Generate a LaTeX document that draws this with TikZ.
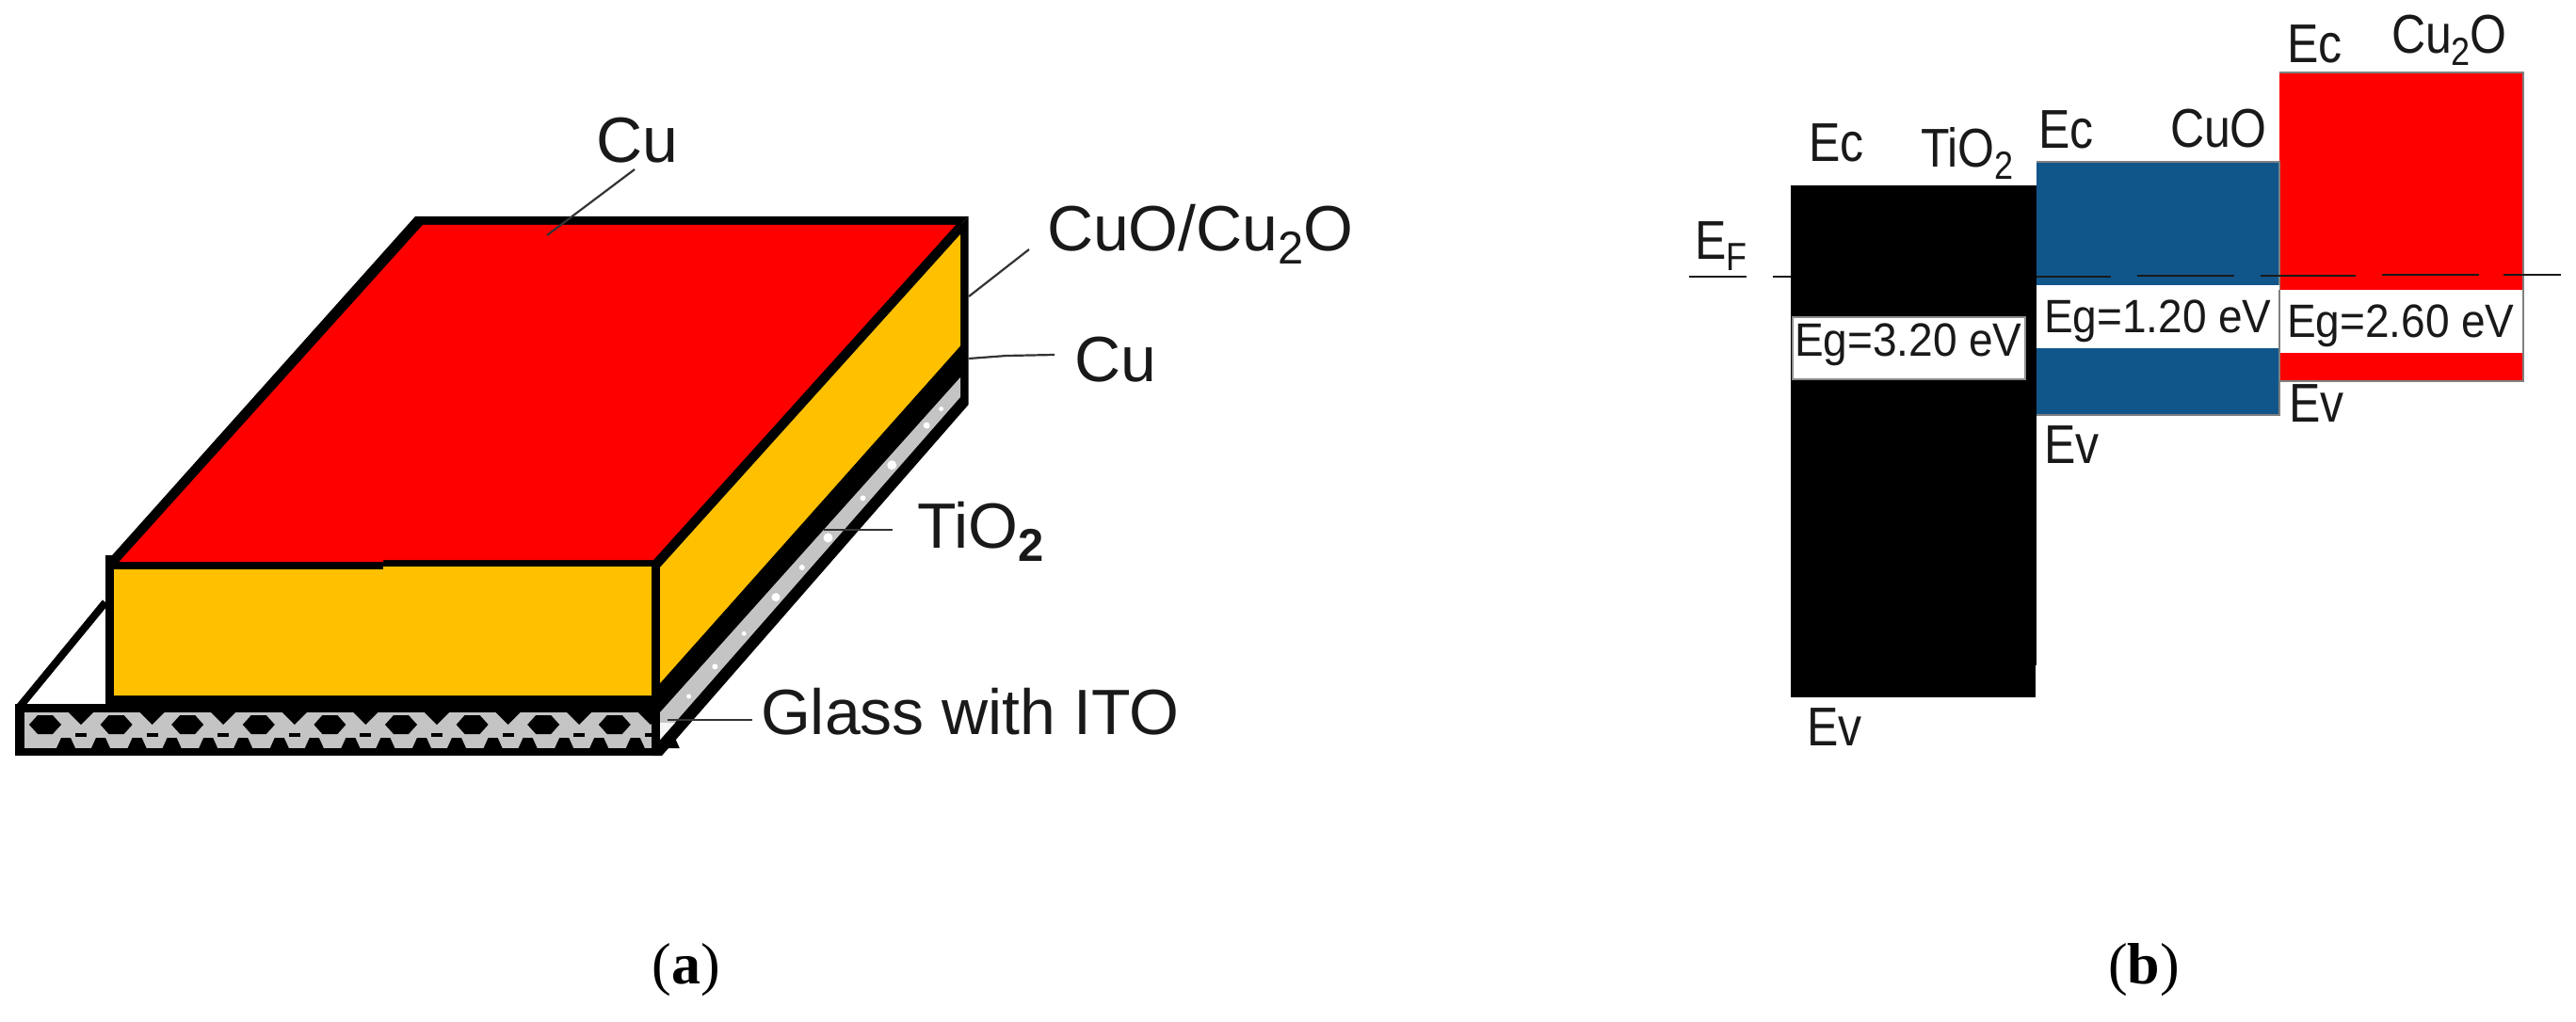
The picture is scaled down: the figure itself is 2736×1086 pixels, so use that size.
\documentclass[tikz,border=0pt]{standalone}
\usepackage{fontspec}
\usetikzlibrary{calc}
\setmainfont{Liberation Sans}
\newfontfamily\capfont{Liberation Serif}
\definecolor{cured}{HTML}{FF0000}
\definecolor{cuorange}{HTML}{FFC000}
\definecolor{cublue}{HTML}{11568B}
\definecolor{glassgray}{HTML}{C4C4C4}
\newcommand{\subsc}[1]{\raisebox{-0.22em}{\scalebox{0.72}{#1}}}
\newcommand{\tallb}[1]{\scalebox{1}[1.16]{#1}}
\newcommand{\talle}[1]{\scalebox{1}[1.08]{#1}}
\tikzset{
  lab/.style={anchor=base west,inner sep=0pt,outer sep=0pt,text=black!90,font=\fontsize{68}{68}\selectfont},
  blab/.style={anchor=base west,inner sep=0pt,outer sep=0pt,text=black!90,font=\fontsize{50}{50}\selectfont},
  eglab/.style={anchor=base west,inner sep=0pt,outer sep=0pt,text=black!90,font=\fontsize{46}{46}\selectfont},
  caplab/.style={anchor=base,inner sep=0pt,outer sep=0pt,font=\capfont\fontsize{62}{62}\selectfont},
  lead/.style={draw=black!80,line width=2.2pt},
  gapbox/.style={fill=white,draw=black!45,line width=1.5pt},
  bandedge/.style={draw=black!50,line width=1.5pt},
  fermi/.style={draw=black!90,line width=2.8pt}
}
\begin{document}
\begin{tikzpicture}[x=1pt,y=-1pt]
\useasboundingbox (0,0) rectangle (2736,1086);
% ---------- panel (a): glass, back outline
\draw[black,line width=8pt] (20,752) -- (112,640);
% glass front
\fill[black] (16,748) rectangle (703,803);
\fill[glassgray] (25.5,757) rectangle (692,795);
\foreach \i in {0,...,8}{
  \pgfmathsetmacro{\cx}{48+75.6*\i}
  \fill[black] (\cx-17,770) -- (\cx-8,760) -- (\cx+8,760) -- (\cx+17,770) -- (\cx+8,780) -- (\cx-8,780) -- cycle;
  \fill[black] (\cx+25,757) -- (\cx+51,757) -- (\cx+38,770) -- cycle;
  \fill[black] (\cx+32,779) rectangle (\cx+44,783);
  \fill[black] (\cx+12,795) -- (\cx+17,784) -- (\cx+27,784) -- (\cx+32,795) -- cycle;
  \fill[black] (\cx+49,795) -- (\cx+54,784) -- (\cx+64,784) -- (\cx+69,795) -- cycle;
}
\fill[glassgray] (692,757) rectangle (692.5,795);
% black Cu layer on front
\fill[black] (112,590) rectangle (701,757);
% orange front
\fill[cuorange] (121,605) -- (407,605) -- (407,602) -- (692,602) -- (692,739) -- (121,739) -- cycle;
% right side: all black first
\fill[black] (696,597) -- (1028.6,230) -- (1028.6,430) -- (703,803) -- (692,803) -- (692,597) -- cycle;
% gray glass side
\fill[glassgray] (701,757) -- (1020,401) -- (1020,422) -- (701,786) -- cycle;
\fill[white!85!glassgray] (701,768) -- (717,768) -- (701,786) -- cycle;
\foreach \a/\b in {.08/2.5,.17/3,.27/2.5,.38/4.5,.47/3,.56/5,.68/3,.78/5,.9/3.5,.95/2.5}{
  \fill[white] ($(707,768)!\a!(1015,417)$) circle[radius=\b];
}
% orange side
\fill[cuorange] (701,603) -- (1020,249) -- (1020,367.5) -- (701,726) -- cycle;
% red top
\fill[black] (112,598) -- (441,230) -- (1028.6,230) -- (701,597) -- (407,595) -- (407,598) -- cycle;
\fill[cured] (126.5,597) -- (449,239) -- (1015,239) -- (694,595) -- (407,595) -- (407,597) -- cycle;
% labels of panel (a)
\node[lab] (cuTop) at (633,173) {Cu};
\node[lab] (cuoLab) at (1112,266) {CuO/Cu\subsc{2}O};
\node[lab] (cuMid) at (1141,405) {Cu};
\node[lab] (tioLab) at (974,582) {TiO\raisebox{-0.22em}{\scalebox{0.72}{\textbf{2}}}};
\node[lab] (glassLab) at (808,780) {Glass with ITO};
\coordinate (cuTopEnd) at (581,250);
\coordinate (cuoEnd) at (1029,315);
\coordinate (cuMidEnd) at (1029,381);
\coordinate (tioEnd) at (875,563);
\coordinate (glassEnd) at (709,765);
\coordinate (cuTopStart) at (674,180);
\coordinate (cuoStart) at (1093,265);
\coordinate (cuMidStart) at (1120,377);
\coordinate (tioStart) at (948,563);
\coordinate (glassStart) at (799,765);
\draw[lead] (cuTopStart) -- (cuTopEnd);
\draw[lead] (cuoStart) -- (cuoEnd);
\draw[lead] (cuMidStart) -- (1069,378) -- (cuMidEnd);
\draw[lead] (tioStart) -- (tioEnd);
\draw[lead] (glassStart) -- (glassEnd);
\node[caplab] (capA) at (729,1045) {(\textbf{a})};
% ---------- panel (b)
\fill[black] (1902,197) rectangle (2163,707);
\fill[black] (1902,707) rectangle (2162,741);
\fill[cublue] (2163,172) rectangle (2421,441);
\fill[cured] (2421,77) rectangle (2680,405);
\draw[bandedge] (2163,172) -- (2421,172) -- (2421,441) -- (2163,441);
\draw[bandedge] (2421,77) -- (2680,77) -- (2680,405) -- (2421,405);
\draw[gapbox] (1904,337) rectangle (2151,403);
\fill[white] (2163,303) rectangle (2421,370);
\fill[white] (2421,308) rectangle (2680,375);
\draw[bandedge] (2421,308) -- (2421,375);
\draw[bandedge] (2680,308) -- (2680,375);
\draw[fermi] (1794,294) -- (1855,294);
\draw[fermi] (1883,294) -- (1902,294);
\draw[fermi] (2163,294) -- (2242,294);
\draw[fermi] (2270,293) -- (2373,293);
\draw[fermi] (2401,293) -- (2502,293);
\draw[fermi] (2530,292) -- (2633,292);
\draw[fermi] (2659,292) -- (2720,292);
\node[blab] (ef) at (1800,275) {\tallb{E\subsc{F}}};
\node[blab] (ecT) at (1921,172) {\tallb{Ec}};
\node[blab] (tiT) at (2040,178) {\tallb{TiO\subsc{2}}};
\node[blab] (ecC) at (2165,158) {\tallb{Ec}};
\node[blab] (cuC) at (2305,157) {\tallb{CuO}};
\node[blab] (ecU) at (2429,67) {\tallb{Ec}};
\node[blab] (cuU) at (2540,57) {\tallb{Cu\subsc{2}O}};
\node[blab] (evT) at (1919,792) {\tallb{Ev}};
\node[blab] (evC) at (2171,492) {\tallb{Ev}};
\node[blab] (evU) at (2431,448) {\tallb{Ev}};
\node[eglab] (egT) at (1906,378) {\talle{Eg=3.20 eV}};
\node[eglab] (egC) at (2171,353) {\talle{Eg=1.20 eV}};
\node[eglab] (egU) at (2429,358) {\talle{Eg=2.60 eV}};
\node[caplab] (capB) at (2277,1045) {(\textbf{b})};
\end{tikzpicture}
\end{document}
